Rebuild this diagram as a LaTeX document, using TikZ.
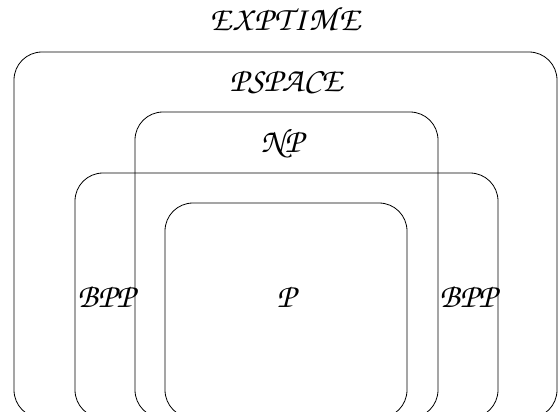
\documentclass[tikz,border=0pt]{standalone}
\usepackage[T1]{fontenc}
\newcommand{\chz}{\fontencoding{T1}\fontfamily{pzc}\fontseries{m}\fontshape{it}\fontsize{34}{38}\selectfont}
\tikzset{
  setbox/.style={draw=black, line width=0.8pt, rounded corners=28pt},
  lab/.style={inner sep=0pt, font=\chz}
}
\begin{document}
\begin{tikzpicture}[x=1pt,y=-1pt]
\useasboundingbox (0,0) rectangle (558,412);
\begin{scope}
\clip (0,0) rectangle (558,412);
\draw[setbox] (14,418) rectangle (557,52);
\draw[setbox] (135,418) rectangle (438,112);
\draw[setbox] (75,418) rectangle (498,173);
\draw[setbox] (165,418) rectangle (407,203);
\end{scope}
\node[lab] (exptime) at (285,19) {E\kern2pt X\kern2pt P\kern2pt T\kern2pt I\kern2pt M\kern2pt E};
\node[lab] (pspace) at (286,82) {PSPACE};
\node[lab] (np) at (282,143) {NP};
\node[lab] (bppl) at (106,297) {BPP};
\node[lab] (bppr) at (468,297) {BPP};
\node[lab] (p) at (286,297) {P};
\end{tikzpicture}
\end{document}
